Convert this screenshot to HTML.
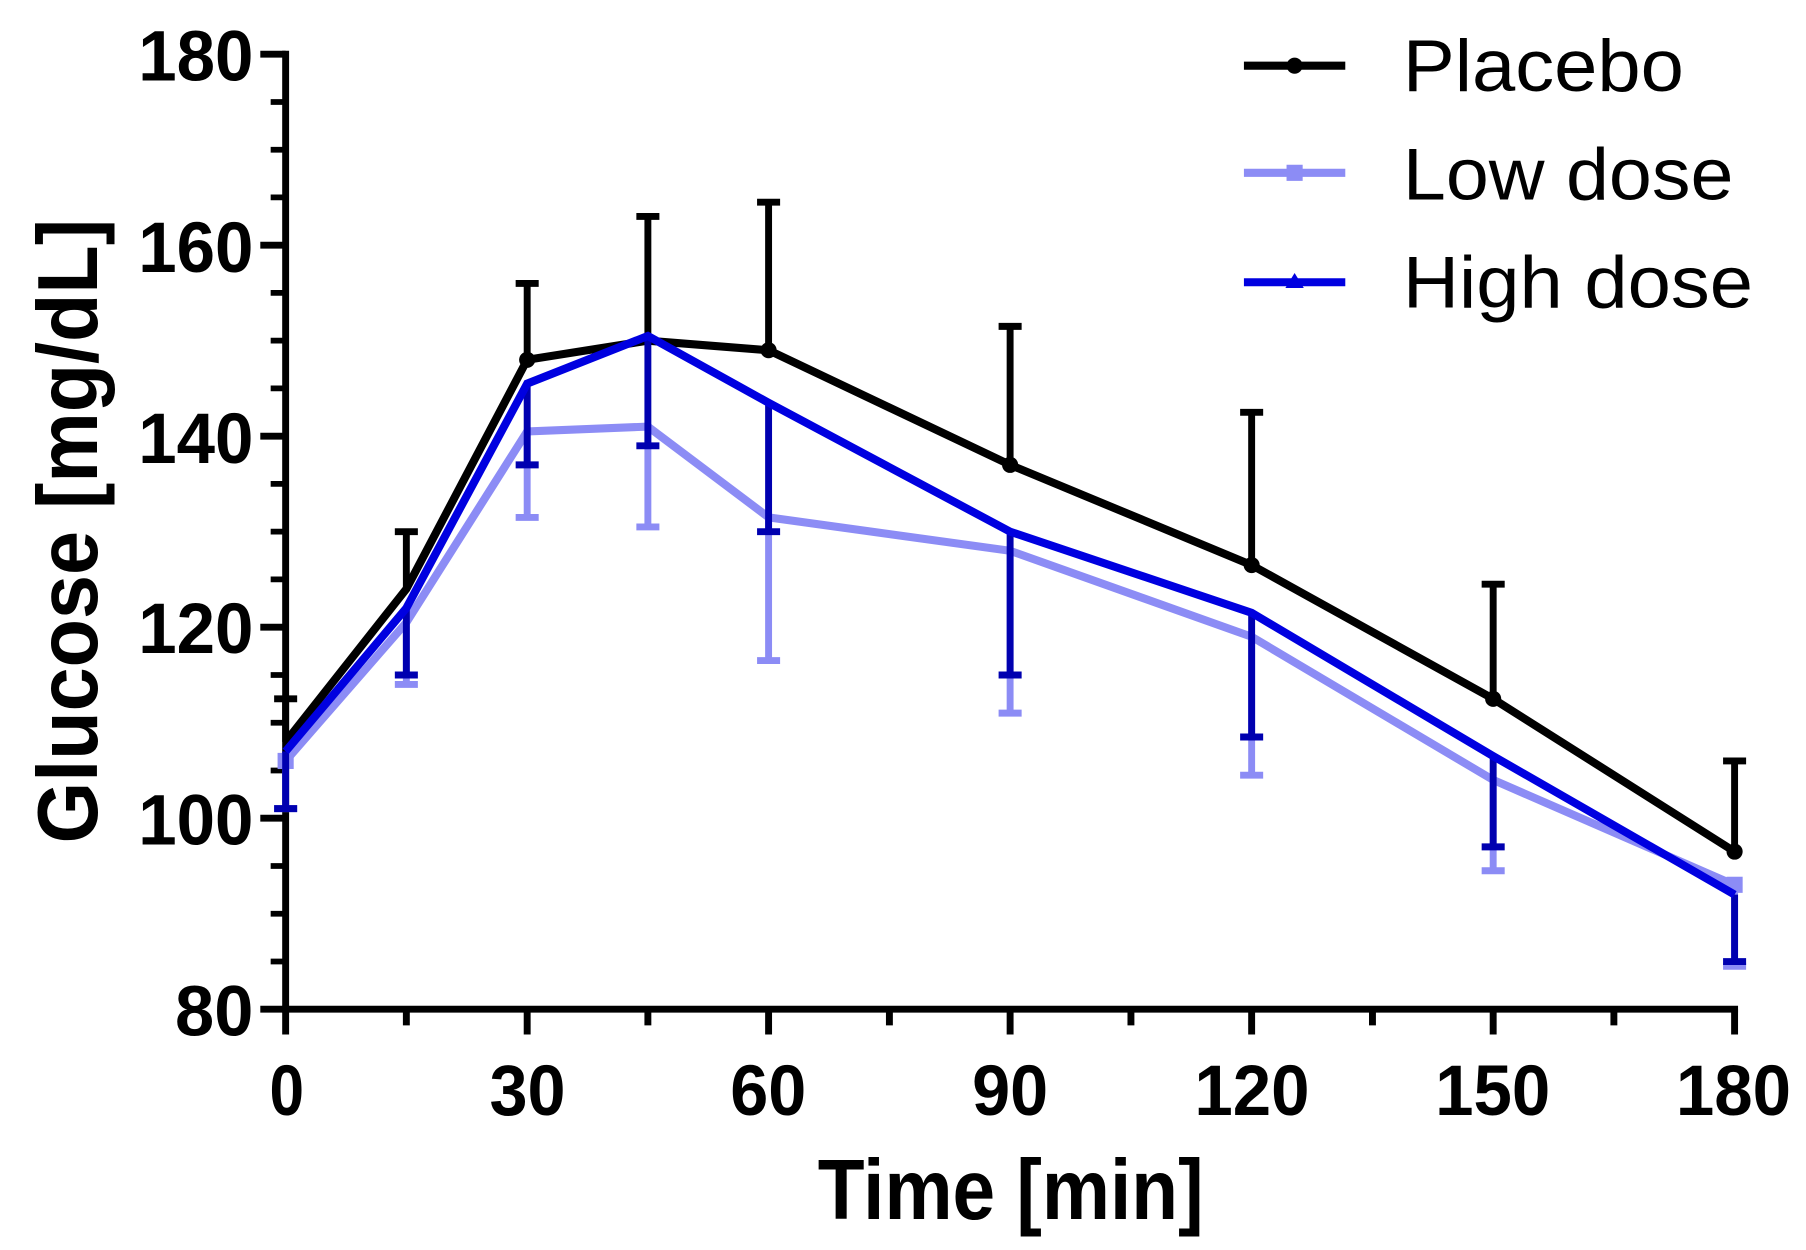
<!DOCTYPE html>
<html><head><meta charset="utf-8"><style>html,body{margin:0;padding:0;background:#fff}svg{display:block}</style></head>
<body>
<svg width="1806" height="1250" viewBox="0 0 1568 1085" preserveAspectRatio="none" xmlns="http://www.w3.org/2000/svg" font-family="Liberation Sans, sans-serif" font-weight="bold">
<rect width="1568" height="1085" fill="#fff"/>
<g stroke="#000" stroke-width="6" fill="none">
<line x1="248" y1="44" x2="248" y2="879"/>
<line x1="245" y1="876" x2="1509" y2="876"/>
<path d="M226 47H248M226 212.8H248M226 378.6H248M226 544.4H248M226 710.2H248M226 876H248"/>
<path stroke-width="5" d="M235 88.5H248M235 130H248M235 171.3H248M235 254.2H248M235 295.7H248M235 337.1H248M235 420H248M235 461.5H248M235 502.9H248M235 585.9H248M235 627.3H248M235 668.8H248M235 751.7H248M235 793.1H248M235 834.6H248"/>
<path d="M248 876V898M352.8 876V890M457.7 876V898M562.5 876V890M667.3 876V898M772.2 876V890M877 876V898M981.9 876V890M1086.7 876V898M1191.6 876V890M1296.4 876V898M1401.2 876V890M1506 876V898"/>
</g>
<g font-size="62" text-anchor="end">
<text x="220" y="70" textLength="100" lengthAdjust="spacingAndGlyphs">180</text>
<text x="220" y="236" textLength="100" lengthAdjust="spacingAndGlyphs">160</text>
<text x="220" y="402" textLength="100" lengthAdjust="spacingAndGlyphs">140</text>
<text x="220" y="567" textLength="100" lengthAdjust="spacingAndGlyphs">120</text>
<text x="220" y="733" textLength="100" lengthAdjust="spacingAndGlyphs">100</text>
<text x="220" y="899" textLength="68" lengthAdjust="spacingAndGlyphs">80</text>
</g>
<g font-size="62">
<text x="234" y="968" textLength="30" lengthAdjust="spacingAndGlyphs">0</text>
<text x="425" y="968" textLength="66" lengthAdjust="spacingAndGlyphs">30</text>
<text x="634" y="968" textLength="66" lengthAdjust="spacingAndGlyphs">60</text>
<text x="844" y="968" textLength="66" lengthAdjust="spacingAndGlyphs">90</text>
<text x="1037" y="968" textLength="100" lengthAdjust="spacingAndGlyphs">120</text>
<text x="1246" y="968" textLength="100" lengthAdjust="spacingAndGlyphs">150</text>
<text x="1455" y="968" textLength="100" lengthAdjust="spacingAndGlyphs">180</text>
</g>
<text x="710" y="1058" font-size="74" textLength="335" lengthAdjust="spacingAndGlyphs">Time [min]</text>
<text transform="translate(84,732) rotate(-90)" font-size="74" textLength="542" lengthAdjust="spacingAndGlyphs">Glucose [mg/dL]</text>

<g stroke="#8c8cf5" stroke-width="6" fill="none">
<path d="M248 660.5V701.9M238 701.9H258M352.8 540.3V594.1M342.8 594.1H362.8M457.7 374.5V449.1M447.7 449.1H467.7M562.5 370.3V457.4M552.5 457.4H572.5M667.3 449.1V573.4M657.3 573.4H677.3M877 478.1V619M867 619H887M1086.7 552.7V672.9M1076.7 672.9H1096.7M1296.4 677V755.8M1286.4 755.8H1306.4M1506 768.2V838.7M1496 838.7H1516"/>
<polyline stroke-width="7" points="248,660.5 352.8,540.3 457.7,374.5 562.5,370.3 667.3,449.1 877,478.1 1086.7,552.7 1296.4,677 1506,768.2"/>
</g>
<g fill="#8c8cf5"><rect x="241" y="653.5" width="14" height="14"/><rect x="1499" y="761" width="14" height="14"/></g>

<g stroke="#000" stroke-width="6" fill="none">
<path d="M248 643.9V606.6M238 606.6H258M352.8 511.2V461.5M342.8 461.5H362.8M457.7 312.3V246M447.7 246H467.7M562.5 295.7V187.9M552.5 187.9H572.5M667.3 304V175.5M657.3 175.5H677.3M877 403.5V283.3M867 283.3H887M1086.7 490.5V357.9M1076.7 357.9H1096.7M1296.4 606.6V507.1M1286.4 507.1H1306.4M1506 739.2V660.5M1496 660.5H1516"/>
<polyline stroke-width="7" points="248,643.9 352.8,511.2 457.7,312.3 562.5,295.7 667.3,304 877,403.5 1086.7,490.5 1296.4,606.6 1506,739.2"/>
</g>
<g fill="#000"><circle cx="457.7" cy="312.3" r="7"/><circle cx="667.3" cy="304" r="7"/><circle cx="877" cy="403.5" r="7"/><circle cx="1086.7" cy="490.5" r="7"/><circle cx="1296.4" cy="606.6" r="7"/><circle cx="1506" cy="739.2" r="7"/></g>

<g stroke="#0000b0" stroke-width="6" fill="none">
<path d="M248 652.2V701.9M238 701.9H258M352.8 527.8V585.9M342.8 585.9H362.8M457.7 333V403.5M447.7 403.5H467.7M562.5 291.6V387M552.5 387H572.5M667.3 349.6V461.5M657.3 461.5H677.3M877 461.5V585.9M867 585.9H887M1086.7 531.9V639.7M1076.7 639.7H1096.7M1296.4 656.3V735.1M1286.4 735.1H1306.4M1506 776.5V834.6M1496 834.6H1516"/>
</g>
<polyline stroke="#0000e0" stroke-width="7" fill="none" points="248,652.2 352.8,527.8 457.7,333 562.5,291.6 667.3,349.6 877,461.5 1086.7,531.9 1296.4,656.3 1506,776.5"/>

<line x1="1080" y1="57" x2="1168" y2="57" stroke="#000" stroke-width="7"/><circle cx="1124" cy="57" r="7"/>
<line x1="1080" y1="150" x2="1168" y2="150" stroke="#8c8cf5" stroke-width="7"/><rect x="1117" y="143" width="14" height="14" fill="#8c8cf5"/>
<line x1="1080" y1="245" x2="1168" y2="245" stroke="#0000e0" stroke-width="7"/><polygon points="1124,237 1132,250 1116,250" fill="#0000e0"/>
<g font-weight="normal" font-size="64">
<text x="1218" y="79" textLength="244" lengthAdjust="spacingAndGlyphs">Placebo</text>
<text x="1218" y="173" textLength="287" lengthAdjust="spacingAndGlyphs">Low dose</text>
<text x="1218" y="267" textLength="304" lengthAdjust="spacingAndGlyphs">High dose</text>
</g>
</svg>
</body></html>
